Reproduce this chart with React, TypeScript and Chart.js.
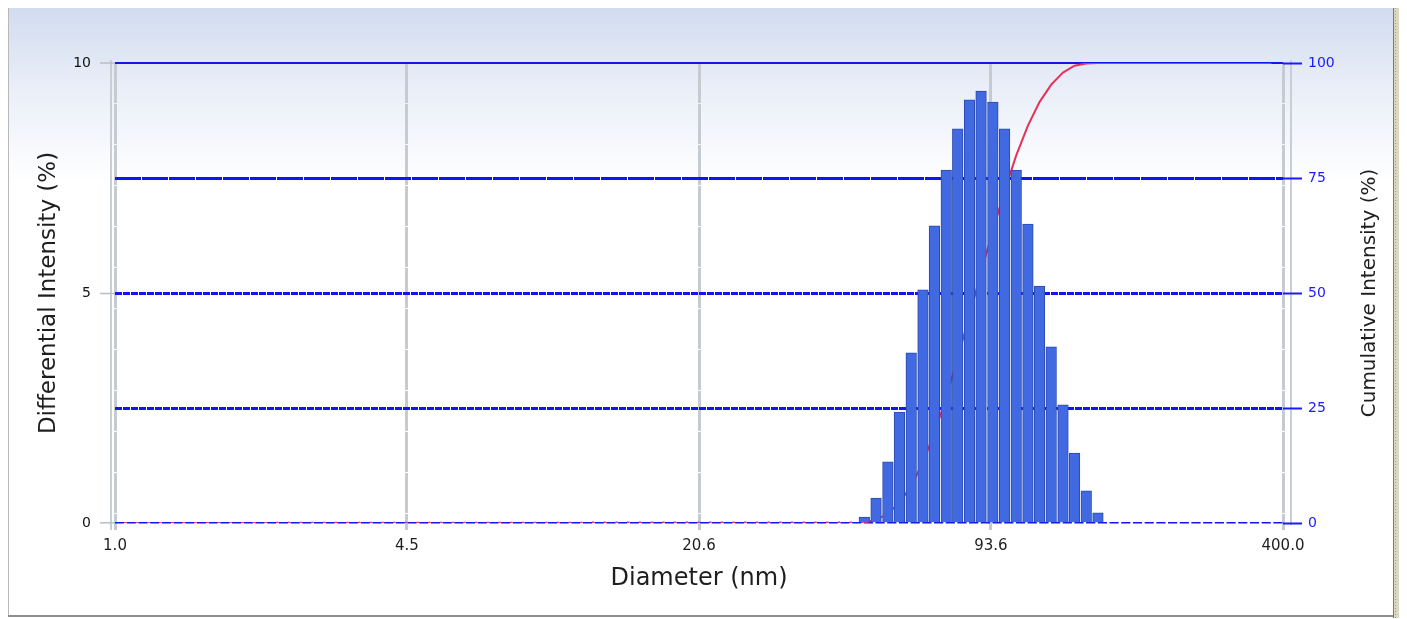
import React, { useEffect, useRef } from 'react';
import { Chart, registerables } from 'chart.js';

Chart.register(...registerables);
Chart.defaults.font.family = "'DejaVu Sans', sans-serif";

// Bin centres of the intensity distribution (nm)
const binDiameters = [
  46.7, 49.6, 52.7, 55.9, 59.4, 63.1, 66.9, 71.1, 75.4, 80.1, 85.0,
  90.3, 95.9, 101.8, 108.1, 114.7, 121.8, 129.4, 137.3, 145.8, 154.8,
];

// Differential intensity per bin (%)
const differentialIntensity = [
  0.13, 0.54, 1.33, 2.41, 3.7, 5.07, 6.46, 7.67, 8.57, 9.2, 9.39,
  9.15, 8.57, 7.67, 6.5, 5.15, 3.83, 2.57, 1.52, 0.7, 0.22,
];

// Cumulative intensity curve (%)
const cumulativeDiameters = [
  1.0, 46.7, 49.6, 52.7, 55.9, 59.4, 63.1, 66.9, 71.1, 75.4, 80.1, 85.0,
  90.3, 95.9, 101.8, 108.1, 114.7, 121.8, 129.4, 137.3, 145.8, 154.8, 377,
];
const cumulativeIntensity = [
  0, 0.13, 0.67, 2.0, 4.4, 8.1, 13.2, 19.6, 27.3, 35.9, 45.1, 54.5,
  63.6, 72.2, 79.9, 86.4, 91.5, 95.3, 97.9, 99.4, 99.9, 100, 100,
];

// Diameter axis grid positions and their printed labels
const xTickValues = [1.0, 4.47, 20.0, 89.4, 400.0];
const xTickLabels = ['1.0', '4.5', '20.6', '93.6', '400.0'];

const GRID_BLUE = '#1414f0';
const AXIS_BLUE = '#1a1aff';
const GRID_GREY = '#c6cbd1';
const TEXT = '#1e1e1e';

// Window panel: gradient backdrop, frame edges and the outer axis rails
const panelPlugin = {
  id: 'panel',
  beforeDraw(chart: Chart) {
    const { ctx, width, height, chartArea: a } = chart;
    ctx.save();
    const g = ctx.createLinearGradient(0, 0, 0, 175);
    g.addColorStop(0, '#d2dcef');
    g.addColorStop(0.45, '#e9eef8');
    g.addColorStop(1, '#ffffff');
    ctx.fillStyle = g;
    ctx.fillRect(0, 0, width, height);

    ctx.fillStyle = '#b8b8b8';
    ctx.fillRect(0, 0, 1, height - 3);
    ctx.fillStyle = '#8e8e8e';
    ctx.fillRect(0, height - 3, width, 2);

    ctx.fillStyle = '#dcd7c0';
    ctx.fillRect(width - 6, 0, 6, height);
    ctx.fillStyle = '#7a7a7a';
    ctx.fillRect(width - 6, 0, 1, height);
    ctx.strokeStyle = '#9f9985';
    ctx.lineWidth = 1;
    ctx.setLineDash([1, 2]);
    ctx.beginPath();
    ctx.moveTo(width - 3.5, 0);
    ctx.lineTo(width - 3.5, height);
    ctx.stroke();
    ctx.setLineDash([]);

    ctx.fillStyle = '#c9ced4';
    ctx.fillRect(a.left - 5, a.top - 3, 2, a.bottom - a.top + 10);
    ctx.fillRect(a.right + 7, a.top - 3, 2, a.bottom - a.top + 5);
    ctx.restore();
  },
  afterDraw(chart: Chart) {
    const { ctx, chartArea: a } = chart;
    ctx.save();
    ctx.translate(a.right + 87, (a.top + a.bottom) / 2);
    ctx.rotate(-Math.PI / 2);
    ctx.font = "20px 'DejaVu Sans', sans-serif";
    ctx.fillStyle = TEXT;
    ctx.textAlign = 'center';
    ctx.textBaseline = 'middle';
    ctx.fillText('Cumulative Intensity (%)', 0, 0);
    ctx.restore();
  },
};

export default function App() {
  const canvasRef = useRef<HTMLCanvasElement>(null);

  useEffect(() => {
    const canvas = canvasRef.current;
    if (!canvas) return;

    const chart = new Chart(canvas, {
      type: 'bar',
      data: {
        datasets: [
          {
            type: 'bar',
            label: 'Differential Intensity',
            data: binDiameters.map((d, i) => ({ x: d, y: differentialIntensity[i] })),
            xAxisID: 'x',
            yAxisID: 'y',
            backgroundColor: 'rgb(65,105,225)',
            borderColor: 'rgb(44,74,176)',
            borderWidth: 1,
            barThickness: 10.6,
            order: 0,
          },
          {
            type: 'line',
            label: 'Cumulative Intensity',
            data: cumulativeDiameters.map((d, i) => ({ x: d, y: cumulativeIntensity[i] })),
            xAxisID: 'x',
            yAxisID: 'y2',
            borderColor: 'rgb(232,48,88)',
            borderWidth: 2,
            pointRadius: 0,
            tension: 0,
            order: 1,
            segment: {
              borderDash: (c: any) => (c.p0.parsed.y === 0 ? [2.5, 9.2] : undefined),
              borderDashOffset: (c: any) => (c.p0.parsed.y === 0 ? 2.75 : undefined),
            },
          } as any,
        ],
      },
      options: {
        animation: false,
        responsive: false,
        devicePixelRatio: 1,
        events: [],
        layout: { padding: { top: 55, left: 0, right: 0, bottom: 0 } },
        plugins: {
          legend: { display: false },
          tooltip: { enabled: false },
        },
        scales: {
          x: {
            type: 'logarithmic',
            position: 'bottom',
            min: 1,
            max: 400,
            offset: false,
            afterBuildTicks: (s: any) => {
              s.ticks = xTickValues.map((v) => ({ value: v }));
            },
            afterFit: (s: any) => {
              s.height = 95;
            },
            ticks: {
              callback: (_v: any, i: number) => xTickLabels[i],
              autoSkip: false,
              maxRotation: 0,
              color: TEXT,
              font: { size: 15 },
              padding: 7,
            },
            grid: {
              color: GRID_GREY,
              lineWidth: 3,
              tickLength: 7,
              tickColor: GRID_GREY,
              tickWidth: 3,
              offset: false,
            },
            border: { display: false, dash: [40, 1] },
            title: {
              display: true,
              text: 'Diameter (nm)',
              color: TEXT,
              font: { size: 24 },
              padding: { top: 0, bottom: 25 },
            },
          },
          y: {
            type: 'linear',
            position: 'left',
            min: 0,
            max: 10,
            afterFit: (s: any) => {
              s.width = 107;
            },
            ticks: {
              stepSize: 2.5,
              callback: (v: any) => (Number(v) % 5 === 0 ? String(v) : ''),
              color: '#111',
              font: { size: 14 },
              padding: 9,
            },
            grid: {
              color: GRID_BLUE,
              lineWidth: (c: any) => {
                const v = c.tick ? c.tick.value : 0;
                if (v === 10) return 2;
                if (v === 0) return 1.6;
                return 3;
              },
              tickLength: 15,
              tickWidth: 1.5,
              tickColor: (c: any) =>
                c.tick && c.tick.value % 5 === 0 ? '#b9bec4' : 'rgba(0,0,0,0)',
            },
            border: {
              display: false,
              dash: (c: any) => {
                if (!c.tick) return [];
                const v = c.tick.value;
                if (v === 0) return [9.2, 2.5];
                if (v === 7.5) return [26, 1];
                if (v === 10) return [];
                return [7, 1];
              },
            },
            title: {
              display: true,
              text: 'Differential Intensity (%)',
              color: TEXT,
              font: { size: 23 },
              padding: { top: 27, bottom: 0 },
            },
          },
          y2: {
            type: 'linear',
            position: 'right',
            min: 0,
            max: 100,
            afterFit: (s: any) => {
              s.width = 116;
            },
            ticks: {
              stepSize: 25,
              color: AXIS_BLUE,
              font: { size: 14 },
              padding: 6,
            },
            grid: {
              drawOnChartArea: false,
              tickLength: 19,
              tickColor: AXIS_BLUE,
              tickWidth: 2,
            },
            border: { display: false },
          },
        },
      } as any,
      plugins: [panelPlugin],
    });

    return () => chart.destroy();
  }, []);

  return (
    <div style={{ width: 1391, height: 610 }}>
      <canvas ref={canvasRef} width={1391} height={610} style={{ display: 'block' }} />
    </div>
  );
}
